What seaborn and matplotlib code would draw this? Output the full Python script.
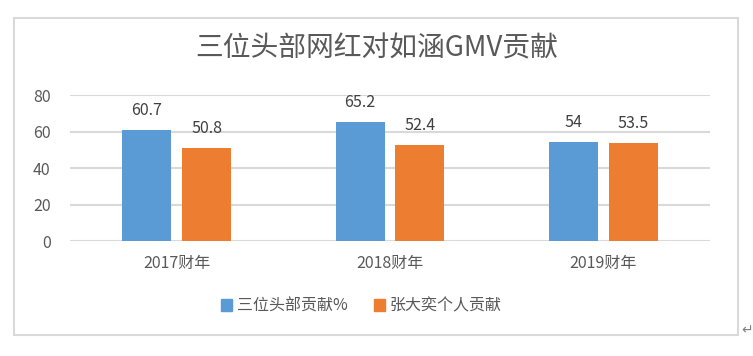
import matplotlib
matplotlib.use("Agg")
import matplotlib.pyplot as plt
import matplotlib.patches as mpatches
import seaborn as sns
import pandas as pd

# chart values
title = "三位头部网红对如涵GMV贡献"
years = ["2017财年", "2018财年", "2019财年"]
series_names = ["三位头部贡献%", "张大奕个人贡献"]
top3_share = [60.7, 65.2, 54]
zdy_share = [50.8, 52.4, 53.5]
colors = ["#5B9BD5", "#ED7D31"]

df = pd.DataFrame({
    "year": years * 2,
    "series": [series_names[0]] * 3 + [series_names[1]] * 3,
    "value": top3_share + zdy_share,
})

sns.set_theme(style="white")
plt.rcParams["font.family"] = ["Noto Sans CJK SC", "DejaVu Sans"]

text_gray = "#595959"
grid_gray = "#D9D9D9"

fig = plt.figure(figsize=(7.53, 3.56), dpi=100)
ax = fig.add_axes([0.093, 0.323, 0.85, 0.41])

sns.barplot(data=df, x="year", y="value", hue="series", palette=colors,
            saturation=1, width=0.56, gap=0.18, linewidth=0,
            ax=ax, legend=False, zorder=3)

ax.set_xlim(-0.5, 2.5)
ax.set_ylim(0, 80)
ax.set_yticks([0, 20, 40, 60, 80])
ax.yaxis.grid(True, color=grid_gray, linewidth=1.5, zorder=0)
ax.set_axisbelow(True)
for s in ax.spines.values():
    s.set_visible(False)
ax.set_xlabel("")
ax.set_ylabel("")
ax.tick_params(axis="y", labelsize=11.5, labelcolor=text_gray, length=0, pad=14)
ax.tick_params(axis="x", labelsize=11.5, labelcolor=text_gray, length=0, pad=10)

for cont in ax.containers:
    ax.bar_label(cont, fmt="%g", padding=8, fontsize=11.5, color="#404040")

fig.text(0.5, 0.865, title, ha="center", va="center", fontsize=20,
         color=text_gray, fontweight="light")

handles = [mpatches.Patch(color=c, label=n) for c, n in zip(colors, series_names)]
fig.legend(handles=handles, loc="center", bbox_to_anchor=(0.48, 0.14), ncol=2,
           frameon=False, fontsize=11.5, handlelength=0.7, handleheight=0.7,
           handletextpad=0.3, columnspacing=1.6, labelcolor=text_gray)

# chart frame
fig.patches.append(mpatches.Rectangle((14 / 753, 1 - 335 / 356), 724 / 753, 317 / 356,
                                      transform=fig.transFigure, fill=False,
                                      edgecolor="#D9D9D9", linewidth=1.5))
fig.text(741 / 753, 1 - 330 / 356, "↵", ha="left", va="center", fontsize=10,
         color="#808080", family=["DejaVu Sans"])

fig.savefig("out.png", dpi=100)
